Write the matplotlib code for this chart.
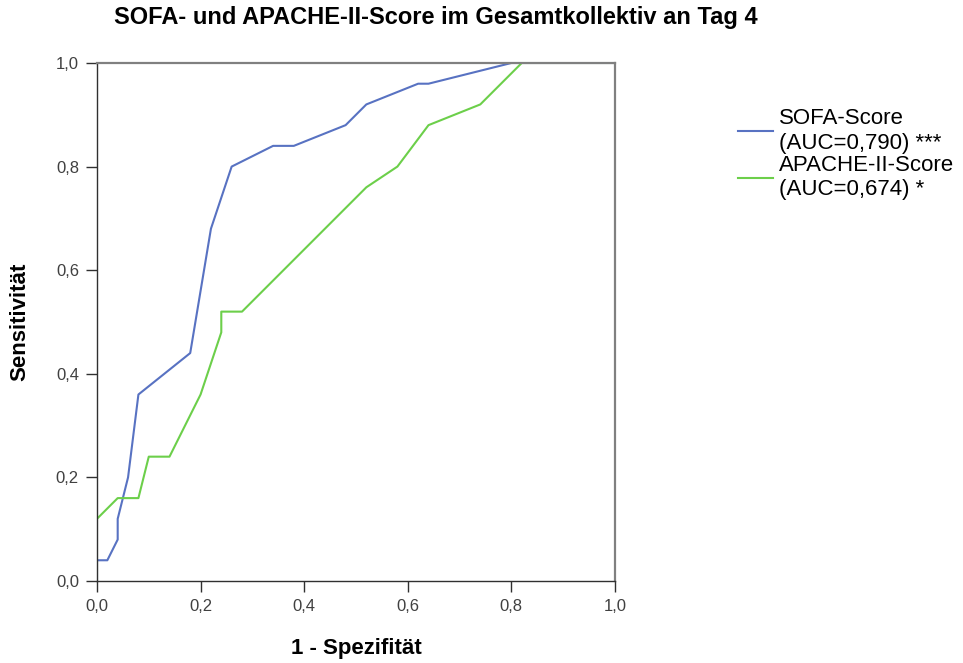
import matplotlib
matplotlib.use('Agg')
import matplotlib.pyplot as plt
from matplotlib.ticker import FuncFormatter

plt.rcParams['font.family'] = ['Liberation Sans', 'DejaVu Sans']

# ROC curve points (1 - specificity, sensitivity)
sofa_x = [0.0, 0.0, 0.02, 0.04, 0.04, 0.06, 0.08, 0.18, 0.22, 0.26, 0.34, 0.38, 0.48, 0.52, 0.62, 0.64, 0.80, 1.0]
sofa_y = [0.0, 0.04, 0.04, 0.08, 0.12, 0.20, 0.36, 0.44, 0.68, 0.80, 0.84, 0.84, 0.88, 0.92, 0.96, 0.96, 1.0, 1.0]

apache_x = [0.0, 0.0, 0.04, 0.08, 0.10, 0.14, 0.20, 0.24, 0.24, 0.28, 0.52, 0.58, 0.64, 0.74, 0.82, 1.0]
apache_y = [0.0, 0.12, 0.16, 0.16, 0.24, 0.24, 0.36, 0.48, 0.52, 0.52, 0.76, 0.80, 0.88, 0.92, 1.0, 1.0]

labels = ['SOFA-Score\n(AUC=0,790) ***', 'APACHE-II-Score\n(AUC=0,674) *']
ticks = [0.0, 0.2, 0.4, 0.6, 0.8, 1.0]

fig = plt.figure(figsize=(9.63, 6.63), dpi=100)
ax = fig.add_axes([0.1007, 0.1237, 0.5379, 0.7813])

ax.plot(sofa_x, sofa_y, color='#5872c2', lw=1.5, label=labels[0])
ax.plot(apache_x, apache_y, color='#6ccf4a', lw=1.5, label=labels[1])

ax.set_xlim(0, 1)
ax.set_ylim(0, 1)
ax.set_xticks(ticks)
ax.set_yticks(ticks)
fmt = FuncFormatter(lambda v, p: f'{v:.1f}'.replace('.', ','))
ax.xaxis.set_major_formatter(fmt)
ax.yaxis.set_major_formatter(fmt)
ax.tick_params(direction='out', length=8, width=1, labelsize=12, pad=5,
               colors='#303030', labelcolor='#404040')

for side in ['top', 'right']:
    ax.spines[side].set_color('#808080')
    ax.spines[side].set_linewidth(1.6)
for side in ['left', 'bottom']:
    ax.spines[side].set_color('#303030')
    ax.spines[side].set_linewidth(1.0)

ax.set_xlabel('1 - Spezifität', fontsize=16, fontweight='bold')
ax.set_ylabel('Sensitivität', fontsize=16, fontweight='bold')
ax.xaxis.set_label_coords(0.5, -0.131)
ax.yaxis.set_label_coords(-0.1486, 0.5)
ax.xaxis.label.set_va('center')
ax.yaxis.label.set_va('center')

fig.text(436 / 963, 1 - 17.5 / 663, 'SOFA- und APACHE-II-Score im Gesamtkollektiv an Tag 4',
         fontsize=17, fontweight='bold', ha='center', va='center')

leg = ax.legend(loc='upper left', bbox_to_anchor=(738 / 963, 1 - 108 / 663),
                bbox_transform=fig.transFigure, frameon=False, fontsize=16,
                handlelength=1.58, handletextpad=0.27, labelspacing=0.05,
                borderpad=0, borderaxespad=0)
for t in leg.get_texts():
    t.set_linespacing(1.22)

fig.savefig('out.png', dpi=100)
